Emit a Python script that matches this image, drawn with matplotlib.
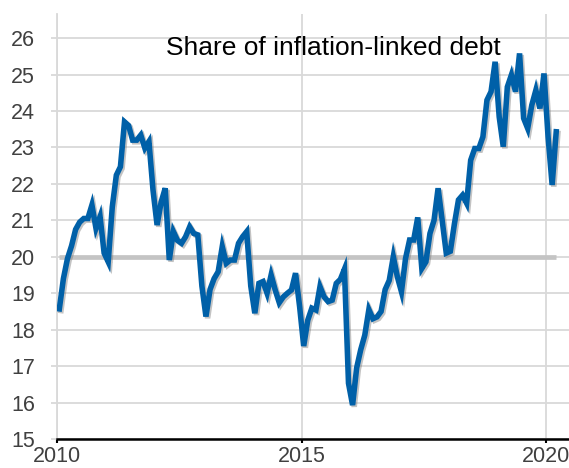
import numpy as np
import pandas as pd
import matplotlib
matplotlib.use("Agg")
import matplotlib.pyplot as plt
import matplotlib.patheffects as pe

plt.rcParams['font.family'] = ['Liberation Sans', 'DejaVu Sans']

# share of inflation-linked debt, monthly Jan 2010 - Mar 2020
share = [
    18.57, 19.40, 19.95, 20.30, 20.75, 20.95, 21.05, 21.05, 21.42, 20.78, 21.10, 20.10,
    19.86, 21.37, 22.24, 22.47, 23.70, 23.60, 23.20, 23.20, 23.34, 22.98, 23.16, 21.83,
    20.87, 21.50, 21.88, 19.91, 20.69, 20.45, 20.37, 20.55, 20.82, 20.64, 20.60, 19.20,
    18.36, 19.10, 19.40, 19.59, 20.28, 19.82, 19.91, 19.91, 20.37, 20.55, 20.69, 19.20,
    18.45, 19.27, 19.32, 19.00, 19.50, 19.09, 18.74, 18.90, 19.00, 19.09, 19.55, 18.63,
    17.55, 18.26, 18.59, 18.54, 19.18, 18.90, 18.77, 18.81, 19.27, 19.38, 19.66, 16.53,
    15.93, 16.95, 17.45, 17.85, 18.55, 18.30, 18.35, 18.50, 19.10, 19.35, 20.00, 19.45,
    19.04, 19.95, 20.46, 20.46, 21.08, 19.68, 19.86, 20.64, 21.00, 21.88, 21.00, 20.10,
    20.15, 20.90, 21.56, 21.69, 21.47, 22.65, 22.97, 22.97, 23.29, 24.30, 24.53, 25.35,
    23.84, 23.02, 24.66, 24.99, 24.53, 25.58, 23.80, 23.52, 24.16, 24.57, 24.07, 25.03,
    23.29, 21.97, 23.43,
]
reference_level = 20
start_month = "2010-01"

title = "Share of inflation-linked debt"
y_ticks = [15, 16, 17, 18, 19, 20, 21, 22, 23, 24, 25, 26]
x_ticks = [2010, 2015, 2020]

months = pd.period_range(start_month, periods=len(share), freq="M")
t = months.year + (months.month - 0.5) / 12.0

fig = plt.figure(figsize=(5.69, 4.68), dpi=100)
ax = fig.add_axes([0.1007, 0.062, 0.8993, 0.908])

grid_col = "#d9d9d9"
ax.set_axisbelow(True)
ax.grid(True, color=grid_col, linewidth=1.3)

# reference level at 20
ax.plot(t, [reference_level] * len(t), color="#c4c4c4", linewidth=3.4,
        solid_capstyle="butt", zorder=2)

ax.plot(t, share, color="#0060a8", linewidth=4.0, solid_joinstyle="miter",
        zorder=3,
        path_effects=[pe.SimpleLineShadow(offset=(1.2, -1.2), shadow_color="#7a7a7a", alpha=0.45),
                      pe.Normal()])

ax.text(0.539, 0.9035, title, transform=ax.transAxes, ha="center",
        va="baseline", fontsize=19, color="black")

ax.set_xlim(2010, 2020.47)
ax.set_ylim(15, 26.66)
ax.set_xticks(x_ticks)
ax.set_xticklabels([str(x) for x in x_ticks])
ax.set_yticks(y_ticks)

for s in ["top", "right"]:
    ax.spines[s].set_visible(False)
ax.spines["left"].set_color(grid_col)
ax.spines["left"].set_linewidth(1.3)
ax.spines["bottom"].set_color("black")
ax.spines["bottom"].set_linewidth(1.8)

ax.tick_params(axis="y", length=4, color=grid_col, width=1.3, pad=12,
               labelsize=15.5, labelcolor="#404040")
ax.tick_params(axis="x", length=3, color="black", width=1.5, pad=2,
               labelsize=15.5, labelcolor="#404040")

fig.savefig("out.png", dpi=100)
